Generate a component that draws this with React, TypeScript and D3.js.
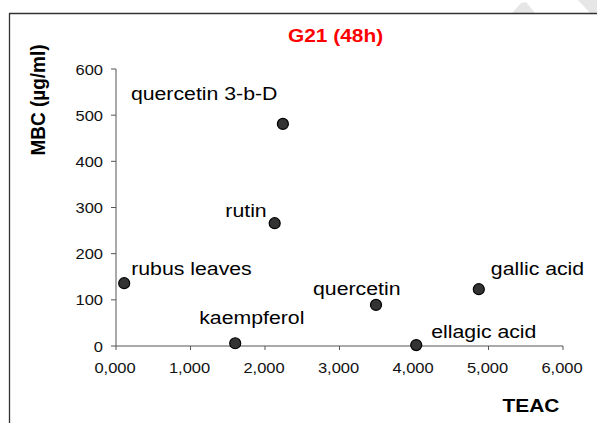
import React from "react";
import * as d3 from "d3";

const compounds = ["quercetin 3-b-D", "rutin", "rubus leaves", "kaempferol", "quercetin", "gallic acid", "ellagic acid"];
const teac = [2.24, 2.13, 0.11, 1.6, 3.49, 4.87, 4.03];
const mbc = [481, 266, 136, 6, 89, 123, 2];
// label offsets relative to point (dx, dy) and anchor
const labelDx = [-152, -8, 7, -36, -63, 12, 15];
const labelDy = [-24, -6, -8, -19, -10, -14, -7];
const labelAnchor = ["start", "end", "start", "start", "start", "start", "start"];
const xTicks = [0, 1, 2, 3, 4, 5, 6];
const yTicks = [0, 100, 200, 300, 400, 500, 600];

const W = 597;
const H = 423;
const FONT = "'Liberation Sans', Arial, sans-serif";
const SX = 1.1;
const LSX = 1.15;

export default function App() {
  const x = d3.scaleLinear().domain([0, 6]).range([116, 563]);
  const y = d3.scaleLinear().domain([0, 600]).range([346, 69]);
  const fmt = (v: number) => d3.format(".3f")(v).replace(".", ",");
  const axisColor = "#555";

  return (
    <svg width={W} height={H} style={{ position: "absolute", left: 0, top: 0, background: "#fff" }}>
      {/* watermark shapes */}
      <polygon points="512,13 521,3 526,2 535,13" fill="#e6e6e6" />
      <polygon points="578,0 597,0 597,13 590,13" fill="#e6e6e6" />
      {/* frame */}
      <line x1={9} x2={W} y1={13.5} y2={13.5} stroke="#333" strokeWidth={1.3} />
      <line x1={9.5} x2={9.5} y1={13} y2={H} stroke="#333" strokeWidth={1.3} />

      {/* title */}
      <text
        transform={`translate(335.5,42) scale(${SX},1)`}
        textAnchor="middle"
        fontFamily={FONT}
        fontWeight="bold"
        fontSize={19}
        fill="#ff0000"
      >
        G21 (48h)
      </text>

      {/* y axis */}
      <line x1={x(0)} x2={x(0)} y1={y(0)} y2={y(600)} stroke={axisColor} strokeWidth={1} />
      {yTicks.map((t) => (
        <g key={"y" + t}>
          <line x1={x(0) - 5} x2={x(0)} y1={y(t)} y2={y(t)} stroke={axisColor} strokeWidth={1} />
          <text
            transform={`translate(103,${y(t) + 5.5}) scale(${SX},1)`}
            textAnchor="end"
            fontFamily={FONT}
            fontSize={15}
            fill="#111"
          >
            {t}
          </text>
        </g>
      ))}

      {/* x axis */}
      <line x1={x(0)} x2={x(6)} y1={y(0)} y2={y(0)} stroke={axisColor} strokeWidth={1} />
      {xTicks.map((t) => (
        <g key={"x" + t}>
          <line x1={x(t)} x2={x(t)} y1={y(0)} y2={y(0) + 4} stroke={axisColor} strokeWidth={1} />
          <text
            transform={`translate(${x(t) - 1},373) scale(${SX},1)`}
            textAnchor="middle"
            fontFamily={FONT}
            fontSize={15}
            fill="#111"
          >
            {fmt(t)}
          </text>
        </g>
      ))}

      {/* axis titles */}
      <text
        transform={`translate(45,100) scale(${SX},1) rotate(-90)`}
        textAnchor="middle"
        fontFamily={FONT}
        fontWeight="bold"
        fontSize={19}
        fill="#000"
      >
        MBC (µg/ml)
      </text>
      <text
        transform={`translate(531,412) scale(${SX},1)`}
        textAnchor="middle"
        fontFamily={FONT}
        fontWeight="bold"
        fontSize={19}
        fill="#000"
      >
        TEAC
      </text>

      {/* points */}
      {compounds.map((c, i) => (
        <circle key={"p" + c} cx={x(teac[i])} cy={y(mbc[i])} r={5.5} fill="#333" stroke="#000" strokeWidth={1.2} />
      ))}

      {/* labels */}
      {compounds.map((c, i) => (
        <text
          key={"l" + c}
          transform={`translate(${x(teac[i]) + labelDx[i]},${y(mbc[i]) + labelDy[i]}) scale(${LSX},1)`}
          textAnchor={labelAnchor[i]}
          fontFamily={FONT}
          fontSize={18.5}
          fill="#000"
        >
          {c}
        </text>
      ))}
    </svg>
  );
}
